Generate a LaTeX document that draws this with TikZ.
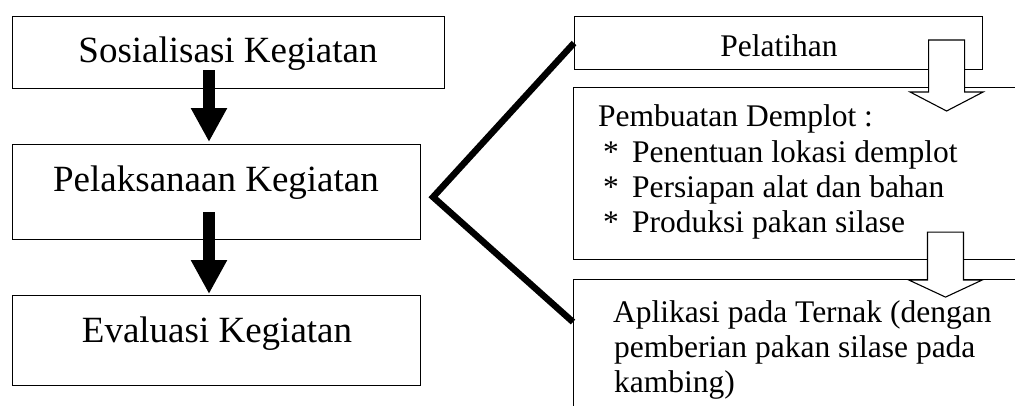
\documentclass[tikz,border=0pt]{standalone}
\usepackage{fontspec}
\setmainfont{Liberation Serif}
\usetikzlibrary{arrows.meta,calc}
\begin{document}
\begin{tikzpicture}[x=1pt,y=-1pt,
  box/.style={draw, line width=1.1pt, inner sep=0pt, anchor=north west},
  big/.style={font=\fontsize{37}{40}\selectfont, inner sep=0pt, anchor=base},
  small/.style={font=\fontsize{31.5}{35}\selectfont, inner sep=0pt, anchor=base west},
  solidarrow/.style={line width=12pt, -{Triangle[width=34pt,length=34pt]}},
  hollow/.style={draw, fill=white, line width=1.1pt, line join=miter},
  bracket/.style={line width=6.5pt}]
\clip (0,0) rectangle (1015,405);
% left column
\node[box, minimum width=432pt, minimum height=72pt] (s1) at (12,16) {};
\node[box, minimum width=408pt, minimum height=95pt] (s2) at (12,144) {};
\node[box, minimum width=408pt, minimum height=90pt] (s3) at (12,295) {};
\node[big] (s1t) at (228,62) {Sosialisasi Kegiatan};
\node[big] (s2t) at (216,191) {Pelaksanaan Kegiatan};
\node[big] (s3t) at (217,342) {Evaluasi Kegiatan};
\draw[solidarrow] ($(s1.south west)+(197,-19)$) -- ($(s2.north west)+(197,-2)$);
\draw[solidarrow] ($(s2.south west)+(197,-28)$) -- ($(s3.north west)+(197,-1)$);
% right column
\node[box, minimum width=408pt, minimum height=53pt] (r1) at (574,16) {};
\node[box, minimum width=460pt, minimum height=172pt] (r2) at (573,87) {};
\node[box, minimum width=460pt, minimum height=160pt] (r3) at (573,279) {};
\node[small, anchor=base] (r1t) at (779,56) {Pelatihan};
\node[small] (r2a) at (598,126) {Pembuatan Demplot :};
\node[small] (r2b) at (603,162) {\makebox[29pt][l]{*}Penentuan lokasi demplot};
\node[small] (r2c) at (603,197) {\makebox[29pt][l]{*}Persiapan alat dan bahan};
\node[small] (r2d) at (603,232) {\makebox[29pt][l]{*}Produksi pakan silase};
\node[small] (r3a) at (613,322) {Aplikasi pada Ternak (dengan};
\node[small] (r3b) at (614,357) {pemberian pakan silase pada};
\node[small] (r3c) at (614,392) {kambing)};
% hollow arrows
\coordinate (h1) at ($(r1.north east)+(-36.5,24)$);
\draw[hollow] (h1) ++(-18,0) -- ++(0,52) -- ++(-18.5,0) -- ($(h1)+(0,71)$) -- ++(36.5,-19) -- ++(-18.5,0) -- ++(0,-52) -- cycle;
\coordinate (h2) at ($(r2.south west)+(372.5,-28)$);
\draw[hollow] (h2) ++(-18,0) -- ++(0,48) -- ++(-18.5,0) -- ($(h2)+(0,65)$) -- ++(36.5,-17) -- ++(-18.5,0) -- ++(0,-48) -- cycle;
% bracket
\coordinate (v) at ($(s2.east)+(12,5)$);
\draw[bracket] (r1.west) -- (v) -- ($(r3.north west)+(0,43)$);
\end{tikzpicture}
\end{document}
